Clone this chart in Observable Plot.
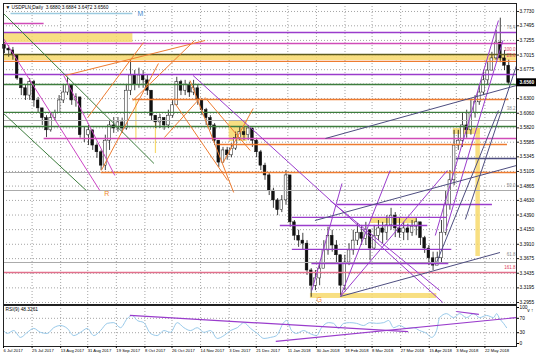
<!DOCTYPE html>
<html><head><meta charset="utf-8">
<script src="https://cdn.jsdelivr.net/npm/d3@7"></script>
<script src="https://cdn.jsdelivr.net/npm/@observablehq/plot@0.6"></script>
<style>
body{margin:0;background:#fff;width:536px;height:358px;overflow:hidden;font-family:"Liberation Sans",Arial,sans-serif}
#chart svg{display:block}
</style></head><body><div id="chart"></div>
<script>
// ---------- data ----------
const symbolTitle = "\u25BC USDPLN,Daily  3.6880 3.6884 3.6472 3.6560";
const rsiTitle = "RSI(9) 48.3261";
const startDate = "2017-07-06";
const endDate = "2018-06-12";
const candleOffsetDays = 0.66;   // first drawn candle, days after startDate
const candleStepDays = 2.793;    // each drawn candle groups ~2.8 days
const firstOpen = 3.718;
const closes = [3.712,3.709,3.701,3.663,3.647,3.635,3.657,3.627,3.614,3.598,
 3.578,3.598,3.606,3.627,3.640,3.652,3.627,3.632,3.570,3.570,
 3.578,3.553,3.542,3.520,3.561,3.586,3.581,3.591,3.581,3.643,
 3.668,3.652,3.668,3.660,3.643,3.602,3.591,3.598,3.586,3.602,
 3.619,3.657,3.643,3.652,3.640,3.647,3.627,3.611,3.598,3.586,
 3.561,3.525,3.545,3.537,3.548,3.565,3.575,3.570,3.581,3.561,
 3.542,3.520,3.504,3.479,3.463,3.447,3.463,3.504,3.427,3.405,
 3.397,3.392,3.348,3.323,3.335,3.351,3.381,3.405,3.389,3.373,
 3.323,3.361,3.381,3.397,3.410,3.400,3.414,3.384,3.405,3.417,
 3.410,3.422,3.438,3.417,3.410,3.417,3.410,3.420,3.427,3.401,
 3.384,3.368,3.356,3.368,3.410,3.455,3.496,3.553,3.561,3.586,
 3.578,3.607,3.624,3.640,3.660,3.676,3.696,3.722,3.696,3.684,
 3.656];
const highs = [3.722,3.717,3.714,3.701,3.663,3.652,3.663,3.660,3.632,3.614,
 3.602,3.606,3.611,3.635,3.652,3.665,3.643,3.638,3.632,3.583,
 3.586,3.578,3.556,3.545,3.570,3.594,3.599,3.599,3.598,3.652,
 3.693,3.676,3.680,3.676,3.668,3.643,3.602,3.604,3.599,3.611,
 3.627,3.665,3.660,3.660,3.657,3.660,3.652,3.630,3.614,3.602,
 3.589,3.561,3.550,3.550,3.556,3.575,3.583,3.583,3.586,3.581,
 3.565,3.545,3.524,3.507,3.483,3.466,3.471,3.512,3.463,3.430,
 3.414,3.409,3.397,3.351,3.348,3.361,3.397,3.419,3.414,3.397,
 3.373,3.373,3.392,3.414,3.425,3.422,3.427,3.410,3.422,3.430,
 3.427,3.438,3.450,3.443,3.433,3.427,3.424,3.430,3.433,3.427,
 3.404,3.389,3.378,3.378,3.430,3.479,3.512,3.578,3.578,3.607,
 3.611,3.627,3.635,3.652,3.676,3.689,3.706,3.742,3.762,3.709,
 3.693];
const lows = [3.704,3.698,3.693,3.660,3.635,3.627,3.627,3.616,3.606,3.586,
 3.566,3.575,3.594,3.611,3.622,3.635,3.619,3.616,3.565,3.558,
 3.553,3.545,3.532,3.512,3.512,3.545,3.573,3.575,3.573,3.578,
 3.635,3.643,3.647,3.647,3.635,3.594,3.581,3.581,3.578,3.581,
 3.598,3.619,3.635,3.635,3.632,3.635,3.619,3.602,3.586,3.578,
 3.553,3.517,3.525,3.529,3.533,3.545,3.561,3.561,3.561,3.550,
 3.533,3.512,3.496,3.471,3.450,3.438,3.443,3.455,3.419,3.397,
 3.386,3.381,3.340,3.304,3.315,3.323,3.356,3.373,3.378,3.361,
 3.307,3.315,3.356,3.373,3.389,3.389,3.389,3.364,3.381,3.397,
 3.392,3.397,3.414,3.402,3.401,3.397,3.397,3.404,3.405,3.389,
 3.376,3.356,3.348,3.356,3.361,3.405,3.447,3.487,3.545,3.550,
 3.565,3.570,3.598,3.619,3.635,3.652,3.676,3.693,3.689,3.676,
 3.652];
const lastPrice = 3.6560;

const dateTicks = ["2017-07-06","2017-07-25","2017-08-13","2017-08-31","2017-09-19","2017-10-08",
 "2017-10-26","2017-11-14","2017-12-03","2017-12-21","2018-01-11","2018-01-30","2018-02-18",
 "2018-03-08","2018-03-27","2018-04-15","2018-05-03","2018-05-22"];
const priceTicks = [3.7730,3.7495,3.7255,3.7015,3.6775,3.6300,3.6060,3.5820,3.5585,3.5345,
 3.5105,3.4865,3.4630,3.4390,3.4150,3.3910,3.3675,3.3435,3.3195,3.2955];
const priceGridExtra = [3.6540];
const priceDomain = [3.2922, 3.7861];

// full-width horizontal levels
const purpleLevels = [3.7385, 3.6696];
const pinkLevels = [3.7205];
const oliveLevels = [3.7024];
const orangeLevels = [3.6910];
const greenLevels = [3.6532, 3.6073, 3.5843];
const grayLevels = [3.5941, 3.4793, 3.3611];
const redLevels = [3.3447];
// partial horizontal levels [price, from, to]
const blueSegments = [[3.7697,"2017-07-11","2017-09-30"]];
const pinkSegments = [[3.7533,"2017-07-06","2017-08-02"],[3.5646,"2017-08-02","2018-06-12"]];
const orangeSegments = [[3.6286,"2017-09-30","2018-06-07"],[3.5547,"2017-11-25","2018-06-06"],[3.5088,"2017-09-09","2018-06-12"]];
const graySegments = [[3.5088,"2017-07-06","2017-09-09"]];
const navySegments = [[3.5318,"2018-05-03","2018-06-12"]];
const purpleSegments = [[3.4563,"2018-02-13","2018-05-27"],[3.4350,"2018-01-14","2018-04-27"],
 [3.4218,"2018-01-06","2018-04-14"],[3.3825,"2018-01-14","2018-04-30"],[3.3595,"2018-01-27","2018-04-28"]];
// yellow zones [low, high, from, to]
const yellowZones = [[3.7221,3.7369,"2017-07-06","2017-09-30"],[3.6926,3.7008,"2017-07-06","2018-06-12"],
 [3.4251,3.4333,"2018-03-07","2018-04-07"],[3.3021,3.3103,"2018-01-26","2018-04-20"],
 [3.5712,3.5810,"2018-05-01","2018-05-19"],[3.3710,3.5810,"2018-05-16","2018-05-19"],
 [3.5598,3.5925,"2017-12-03","2017-12-15"]];
const yellowVerticals = [["2017-10-02",3.561,3.627],["2017-10-15",3.540,3.590]];
// trend lines [from, price1, to, price2]
const greenTrends = [["2017-07-06",3.7697,"2017-10-14",3.5236],["2017-07-06",3.6057,"2017-08-30",3.4793]];
const magentaTrends = [["2017-07-06",3.7287,"2017-09-08",3.4793],["2017-08-15",3.6680,"2017-09-18",3.5039]];
const orangeTrends = [["2017-08-16",3.6680,"2017-11-17",3.7254],["2017-08-31",3.5991,"2017-10-07",3.7220],
 ["2017-09-09",3.5121,"2017-10-17",3.6877],["2017-09-30",3.6270,"2017-11-10",3.7254],
 ["2017-10-21",3.5663,"2017-11-14",3.6319],["2017-10-28",3.6221,"2017-12-02",3.4957],
 ["2017-11-07",3.6598,"2017-12-06",3.4760],["2017-11-17",3.6319,"2017-12-17",3.5449],
 ["2017-11-29",3.5252,"2017-12-19",3.6139]];
const purpleTrends = [["2017-11-09",3.6680,"2018-04-24",3.2955],["2018-02-08",3.4629,"2018-04-22",3.3152],
 ["2018-01-27",3.3152,"2018-02-16",3.4908],["2018-02-15",3.3054,"2018-03-20",3.5121],
 ["2018-02-15",3.3054,"2018-04-27",3.5121],["2018-04-19",3.4054,"2018-05-31",3.7582],
 ["2018-04-26",3.4136,"2018-06-03",3.7254]];
const navyTrends = [["2018-01-29",3.4300,"2018-06-12",3.5203],["2018-02-05",3.5646,"2018-06-12",3.6516],
 ["2018-02-15",3.3054,"2018-06-01",3.3775],["2018-04-20",3.3620,"2018-05-31",3.6106],
 ["2018-05-09",3.4317,"2018-06-12",3.6844]];
const grayFibo = [[3.7418,"76.4"],[3.6090,"38.2"],[3.4826,"50.0"],[3.3693,"61.8"]];
const redFibo = [[3.7057,"100.0"],[3.6959,"23.6"],[3.3480,"161.8"]];
const markerLabels = [["M","2017-10-03",3.7697],["R","2017-09-11",3.4744],["G","2018-01-30",3.3004]];

// RSI panel
const rsiDays = [0,2.5,6.8,11.3,15.8,20.1,24.6,29,33.4,37.9,42.4,46.7,51.2,55.7,60,64.5,69,73.3,77.8,82.2,
 85.6,88.9,93.3,97.7,102.2,106.6,111,115.5,119.9,124.3,128.8,133.2,137.6,142.1,146.5,150.9,155.4,159.8,164.2,168.7,
 173.1,177.5,181.5,186.2,188.2,191.5,194.8,199.5,203.5,208.1,211.4,216.1,219.4,222.7,226.1,230,234.7,239.4,243.4,248,
 252.7,256,259.3,263.3,268,272.6,276.6,281.3,284.6,287.9,289.9,294.5,299.2,303.2,307.8,312.5,316.5,321.1,325.8,327.8,
 329.8,332.4,334.4];
const rsiValues = [36,28,36,17,31,42,31,28,44,50,42,22,31,42,22,36,56,58,44,69,
 78,64,58,28,22,36,31,58,44,36,44,31,36,14,22,36,44,58,42,28,
 14,17,22,58,64,36,28,36,28,22,44,58,56,42,56,58,56,50,58,56,
 58,64,44,50,42,44,36,28,17,36,72,83,72,83,72,83,72,78,72,83,
 69,56,44];
const rsiTicks = [100,70,30,0];
const rsiLevels = [70,30];
const rsiDomain = [-8.3,105.6];
const rsiTrends = [["2017-09-28",78,"2018-04-01",33],["2018-01-03",6,"2018-06-12",72],["2018-05-03",89,"2018-05-18",81]];

// ---------- build ----------
const D = s => new Date(s + "T00:00:00Z");
const T0 = D(startDate), T1 = D(endDate);
const addDays = (d, n) => new Date(+d + n * 864e5);
const fmtDate = d3.utcFormat("%-d %b %Y");
const ticksX = dateTicks.map(D);

const candles = closes.map((c, k) => {
  const o = k ? closes[k - 1] : firstOpen;
  const t = addDays(T0, candleOffsetDays + k * candleStepDays);
  return {t, t1: addDays(t, -0.9), t2: addDays(t, 0.9), open: o, close: c,
          high: Math.max(highs[k], o, c), low: Math.min(lows[k], o, c)};
});
const seg = a => a.map(([p, f, t]) => ({p, f: D(f), t: D(t)}));
const trend = a => a.map(([f, p1, t, p2]) => ({f: D(f), p1, t: D(t), p2}));
const levelMarks = (arr, color, w = 1.3) => Plot.ruleY(arr, {stroke: color, strokeWidth: w});
const segMarks = (arr, color, w = 1.3) => Plot.ruleY(seg(arr), {y: "p", x1: "f", x2: "t", stroke: color, strokeWidth: w});
const trendMarks = (arr, color, w = 1) => Plot.link(trend(arr), {x1: "f", y1: "p1", x2: "t", y2: "p2", stroke: color, strokeWidth: w, clip: true});

const C = {purple:"#9a3ccc", pink:"#d04bb8", olive:"#5c5a1e", orange:"#ee7c30", green:"#3d7d3d",
  gray:"#ababab", red:"#e2708c", blue:"#9ccbe0", navy:"#4e4e80", magenta:"#cc44c4", yellow:"#f7d96c", rsi:"#8cc3e6"};
const labelColor = {M:"#4a8fd0", R:"#ef8a2a", G:"#ef8a2a"};
const font = 4.8;
const dateFont = 4.2;

const main = Plot.plot({
  width: 536, height: 305,
  marginTop: 3, marginBottom: 1, marginLeft: 3, marginRight: 20,
  style: {fontFamily: "'Liberation Sans', Arial, sans-serif", background: "#fff"},
  x: {type: "utc", domain: [T0, T1], axis: null},
  y: {domain: priceDomain, axis: null},
  marks: [
    Plot.gridX(ticksX, {stroke: "#9a9a9a", strokeOpacity: 0.9, strokeDasharray: "1,2"}),
    Plot.gridY(priceTicks.concat(priceGridExtra), {stroke: "#9a9a9a", strokeOpacity: 0.9, strokeDasharray: "1,2"}),
    Plot.rect(yellowZones, {x1: d => D(d[2]), x2: d => D(d[3]), y1: d => d[0], y2: d => d[1], fill: C.yellow, fillOpacity: 0.85}),
    Plot.ruleX(yellowVerticals, {x: d => D(d[0]), y1: d => d[1], y2: d => d[2], stroke: C.yellow, strokeWidth: 1.2}),
    // candles
    Plot.ruleX(candles, {x: "t", y1: "low", y2: "high", stroke: "#111", strokeWidth: 0.8}),
    Plot.rect(candles, {x1: "t1", x2: "t2", y1: "open", y2: "close",
      fill: d => d.close >= d.open ? "#fff" : "#111", stroke: "#111", strokeWidth: 0.5}),
    // levels
    levelMarks(grayLevels, C.gray, 1.1),
    segMarks(graySegments, C.gray, 1.1),
    levelMarks(purpleLevels, C.purple),
    levelMarks(pinkLevels, C.pink),
    levelMarks(oliveLevels, C.olive),
    levelMarks(orangeLevels, C.orange),
    levelMarks(greenLevels, C.green),
    levelMarks(redLevels, C.red),
    segMarks(blueSegments, C.blue),
    segMarks(pinkSegments, C.pink),
    segMarks(orangeSegments, C.orange),
    segMarks(navySegments, C.navy),
    segMarks(purpleSegments, C.purple),
    // trend lines
    trendMarks(greenTrends, C.green),
    trendMarks(magentaTrends, C.magenta),
    trendMarks(orangeTrends, C.orange),
    trendMarks(purpleTrends, C.purple),
    trendMarks(navyTrends, C.navy),
    // labels
    Plot.text(grayFibo, {y: d => d[0], text: d => d[1], frameAnchor: "right", textAnchor: "end", dx: -1, dy: -3, fill: "#888", fontSize: 4.5}),
    Plot.text(redFibo, {y: d => d[0], text: d => d[1], frameAnchor: "right", textAnchor: "end", dx: -1, dy: -3, fill: "#e0405a", fontSize: 4.5}),
    Plot.text(markerLabels, {x: d => D(d[1]), y: d => d[2], text: d => d[0], fill: d => labelColor[d[0]], fontSize: 7, textAnchor: "start"}),
    Plot.text([symbolTitle], {frameAnchor: "top-left", dx: 2, dy: 2, lineAnchor: "top", textAnchor: "start", fontSize: font, fill: "#000"}),
    Plot.frame({stroke: "#222", strokeWidth: 1}),
    Plot.axisY(priceTicks, {anchor: "right", tickFormat: d => d.toFixed(4), tickSize: 2, tickPadding: 1, fontSize: font, stroke: "#222"}),
    Plot.rect([lastPrice], {x1: () => T1, x2: () => T1, y1: d => d, y2: d => d, insetRight: -20, insetTop: -4, insetBottom: -4, fill: "#000"}),
    Plot.text([lastPrice], {y: d => d, text: d => d.toFixed(4), frameAnchor: "right", dx: 3, textAnchor: "start", fill: "#fff", fontSize: font, fontWeight: "bold"})
  ]
});

const rsiPts = rsiDays.map((d, i) => ({t: addDays(T0, d), v: rsiValues[i]}));
const rsi = Plot.plot({
  width: 536, height: 53,
  marginTop: 0, marginBottom: 12, marginLeft: 3, marginRight: 20,
  style: {fontFamily: "'Liberation Sans', Arial, sans-serif", background: "#fff"},
  x: {type: "utc", domain: [T0, T1]},
  y: {domain: rsiDomain, axis: null},
  marks: [
    Plot.gridX(ticksX, {stroke: "#9a9a9a", strokeOpacity: 0.9, strokeDasharray: "1,2"}),
    Plot.gridY(rsiLevels, {stroke: "#9a9a9a", strokeOpacity: 0.9, strokeDasharray: "1,2"}),
    Plot.line(rsiPts, {x: "t", y: "v", stroke: C.rsi, strokeWidth: 0.9, curve: "monotone-x"}),
    Plot.link(rsiTrends, {x1: d => D(d[0]), y1: d => d[1], x2: d => D(d[2]), y2: d => d[3], stroke: C.purple, strokeWidth: 1.2, clip: true}),
    Plot.text([rsiTitle], {frameAnchor: "top-left", dx: 2, dy: 2, lineAnchor: "top", textAnchor: "start", fontSize: font, fill: "#000"}),
    Plot.frame({stroke: "#222", strokeWidth: 1}),
    Plot.axisY(rsiTicks, {anchor: "right", tickSize: 2, tickPadding: 1, fontSize: font, tickFormat: d => String(d)}),
    Plot.axisX(ticksX, {anchor: "bottom", tickFormat: fmtDate, tickSize: 2, tickPadding: 1, fontSize: dateFont, textAnchor: "start", label: null})
  ]
});

const host = document.getElementById("chart");
host.append(main, rsi);
</script></body></html>
